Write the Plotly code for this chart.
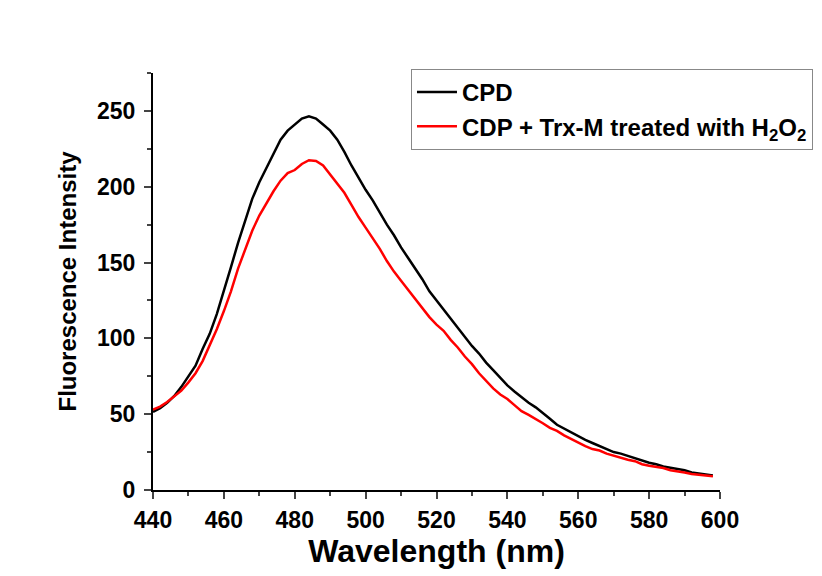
import plotly.graph_objects as go

wavelength = list(range(440, 600, 2))

cpd = [51.5, 54, 57.5, 62, 68, 75, 82, 93, 103, 116,
       131, 147, 163, 178, 192, 203, 212, 222, 231, 237,
       241, 245, 246.5, 245, 241, 237, 231, 223, 214, 206,
       198, 191, 183, 175, 168, 160, 153, 146, 139, 131,
       125, 119, 113, 107, 101, 95, 90, 84, 79, 74,
       69, 65, 61, 57.5, 54.5, 51, 47, 43, 40.5, 38,
       35, 33, 31, 29, 27, 25, 24, 22.5, 21, 19,
       18, 17, 15.5, 14.7, 14, 13, 11.5, 11, 10.5, 9.5]

cdp_trx = [53, 55, 58, 61.5, 65.5, 71, 77, 85, 95, 106,
           118, 131, 146, 159, 171, 181, 189, 197, 204, 209,
           211, 215, 217.5, 217, 214, 208, 202, 196, 188, 180,
           173, 166, 159, 151, 144, 138, 132, 126, 120, 114,
           109, 105, 99, 94, 88, 83, 77, 72, 67, 63,
           60, 56, 52, 49.5, 47, 44, 41, 39, 36, 33.5,
           31, 29, 27, 26, 24, 22.5, 21, 20, 19, 17,
           16, 15.5, 14.5, 13, 12.5, 11.5, 10.5, 10, 9.5, 9]

x_ticks = [440, 460, 480, 500, 520, 540, 560, 580, 600]
y_ticks = [0, 50, 100, 150, 200, 250]

font_family = "Liberation Sans, Arial, sans-serif"

fig = go.Figure()
fig.add_trace(go.Scatter(x=wavelength, y=cpd, mode="lines", name="CPD",
                         line=dict(color="black", width=2.5)))
fig.add_trace(go.Scatter(x=wavelength, y=cdp_trx, mode="lines",
                         name="CDP + Trx-M treated with H<sub>2</sub>O<sub>2</sub>",
                         line=dict(color="#ff0000", width=2.5)))

fig.update_layout(
    width=822, height=576,
    margin=dict(l=153, r=102, t=73, b=86, autoexpand=False),
    paper_bgcolor="white", plot_bgcolor="white",
    font=dict(family=font_family, color="black"),
    showlegend=True,
    legend=dict(x=0.455, y=1.01, xanchor="left", yanchor="top",
                bgcolor="white", bordercolor="#888888", borderwidth=1,
                font=dict(size=24, family=font_family, weight="bold"),
                tracegroupgap=0, itemwidth=40),
    xaxis=dict(range=[440, 600], tickvals=x_ticks, ticks="outside", ticklen=7,
               tickwidth=2, showline=True, linewidth=2, linecolor="black",
               showgrid=False, zeroline=False, ticklabelstandoff=1,
               tickfont=dict(size=23, weight="bold"),
               minor=dict(ticks="outside", ticklen=4, tickwidth=2, dtick=10,
                          tick0=440, showgrid=False),
               title=dict(text="Wavelength (nm)", standoff=6,
                          font=dict(size=32, weight="bold"))),
    yaxis=dict(range=[0, 275], tickvals=y_ticks, ticks="outside", ticklen=7,
               tickwidth=2, showline=True, linewidth=2, linecolor="black",
               showgrid=False, zeroline=False, ticklabelstandoff=4,
               tickfont=dict(size=23, weight="bold"),
               minor=dict(ticks="outside", ticklen=4, tickwidth=2, dtick=25,
                          tick0=0, showgrid=False),
               title=dict(text="Fluorescence Intensity", standoff=14,
                          font=dict(size=24, weight="bold"))),
)

fig.write_html("out.html")
